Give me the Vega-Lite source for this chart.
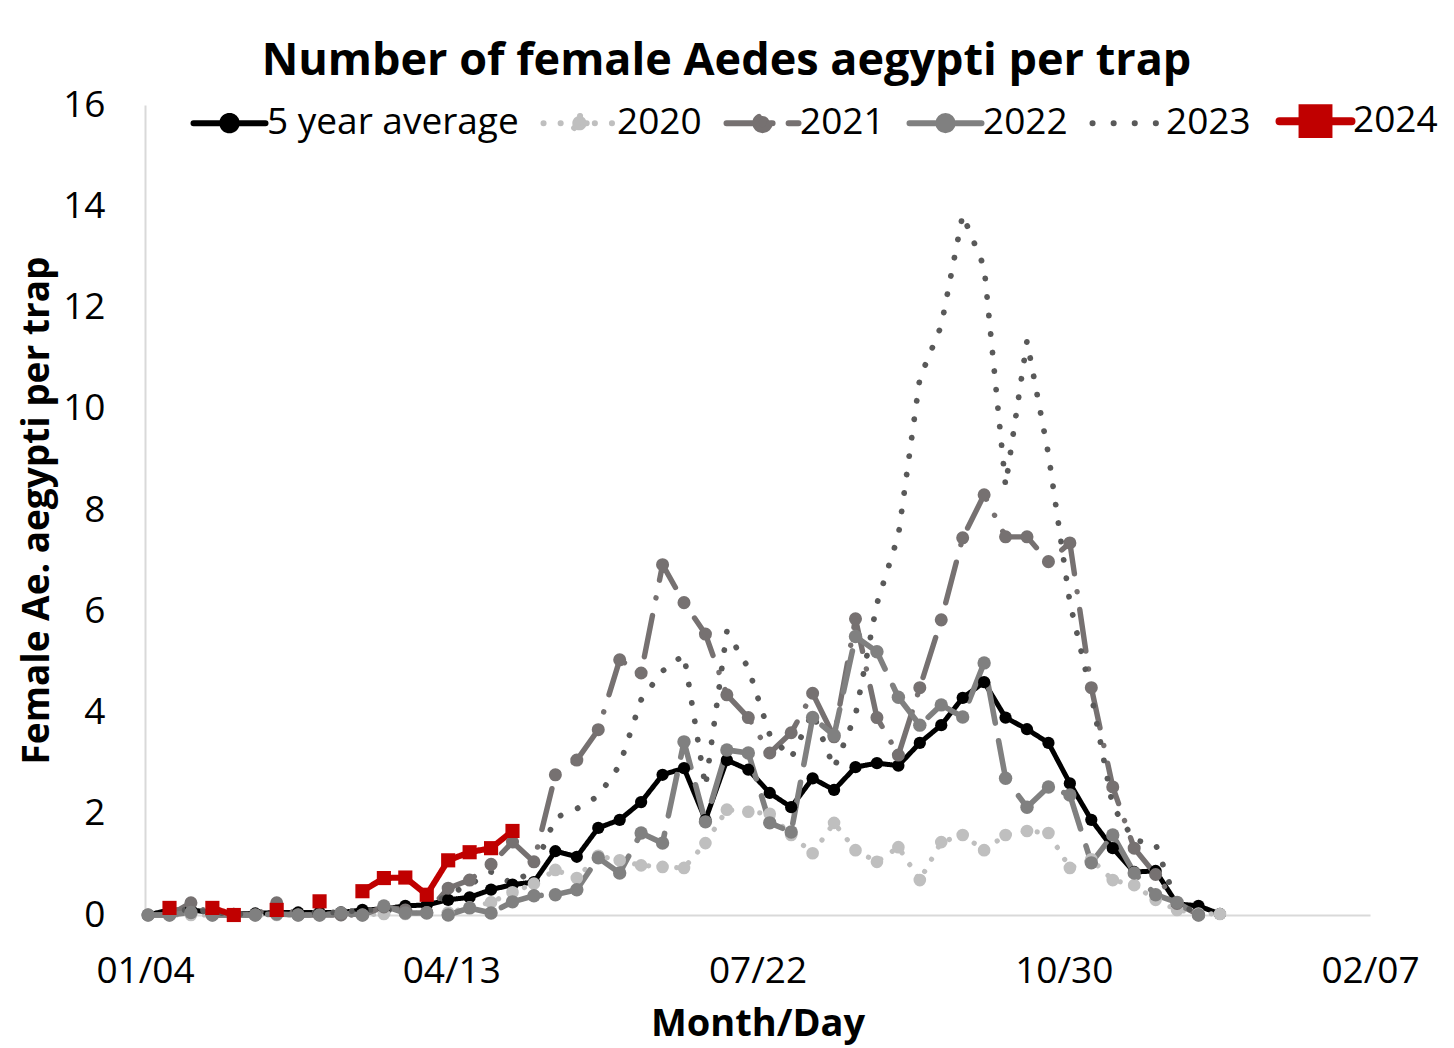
{
  "$schema": "https://vega.github.io/schema/vega-lite/v6.json",
  "width": 1225,
  "height": 810,
  "autosize": {"type": "none"},
  "padding": {"left": 145, "top": 105, "right": 84, "bottom": 133},
  "background": "#ffffff",
  "config": {
    "font": "Open Sans",
    "view": {"stroke": null},
    "axis": {"grid": false, "ticks": false, "domainColor": "#d9d9d9", "domainWidth": 2, "labelColor": "#000000", "titleColor": "#000000", "labelFont": "Open Sans", "titleFont": "Open Sans"}
  },
  "title": {
    "text": "Number of female Aedes aegypti per trap",
    "font": "Open Sans",
    "fontSize": 45,
    "fontWeight": "bold",
    "color": "#000000",
    "anchor": "middle",
    "baseline": "alphabetic",
    "offset": 30,
    "dx": -31,
    "dy": 64
  },
  "data": {
    "values": [
      {"date": "2024-01-05", "5 year average": 0, "2020": 0, "2021": 0, "2022": 0, "2023": 0, "2024": null},
      {"date": "2024-01-12", "5 year average": 0.1, "2020": 0, "2021": 0, "2022": 0, "2023": 0.1, "2024": 0.14},
      {"date": "2024-01-19", "5 year average": 0.1, "2020": 0, "2021": 0.24, "2022": 0.05, "2023": 0.1, "2024": null},
      {"date": "2024-01-26", "5 year average": 0.05, "2020": 0, "2021": 0, "2022": 0, "2023": 0.05, "2024": 0.14},
      {"date": "2024-02-02", "5 year average": 0.02, "2020": 0, "2021": 0, "2022": 0, "2023": 0.02, "2024": 0},
      {"date": "2024-02-09", "5 year average": 0.03, "2020": 0, "2021": 0, "2022": 0, "2023": 0.02, "2024": null},
      {"date": "2024-02-16", "5 year average": 0.05, "2020": 0, "2021": 0.24, "2022": 0.02, "2023": 0.05, "2024": 0.1},
      {"date": "2024-02-23", "5 year average": 0.05, "2020": 0, "2021": 0, "2022": 0, "2023": 0.05, "2024": null},
      {"date": "2024-03-01", "5 year average": 0.05, "2020": 0, "2021": 0, "2022": 0, "2023": 0.05, "2024": 0.27},
      {"date": "2024-03-08", "5 year average": 0.05, "2020": 0, "2021": 0, "2022": 0.04, "2023": 0.05, "2024": null},
      {"date": "2024-03-15", "5 year average": 0.1, "2020": 0, "2021": 0, "2022": 0, "2023": 0.1, "2024": 0.47},
      {"date": "2024-03-22", "5 year average": 0.12, "2020": 0.02, "2021": 0.16, "2022": 0.18, "2023": 0.1, "2024": 0.73},
      {"date": "2024-03-29", "5 year average": 0.18, "2020": 0.02, "2021": 0.1, "2022": 0.04, "2023": 0.1, "2024": 0.74},
      {"date": "2024-04-05", "5 year average": 0.2, "2020": 0.05, "2021": 0.05, "2022": 0.04, "2023": 0.15, "2024": 0.4},
      {"date": "2024-04-12", "5 year average": 0.3, "2020": 0.05, "2021": 0.53, "2022": 0, "2023": 0.4, "2024": 1.08},
      {"date": "2024-04-19", "5 year average": 0.35, "2020": 0.15, "2021": 0.69, "2022": 0.14, "2023": 0.6, "2024": 1.24},
      {"date": "2024-04-26", "5 year average": 0.5, "2020": 0.25, "2021": 1.0, "2022": 0.04, "2023": 0.85, "2024": 1.32},
      {"date": "2024-05-03", "5 year average": 0.6, "2020": 0.45, "2021": 1.44, "2022": 0.26, "2023": 0.62, "2024": 1.66},
      {"date": "2024-05-10", "5 year average": 0.65, "2020": 0.62, "2021": 1.05, "2022": 0.38, "2023": 0.9, "2024": null},
      {"date": "2024-05-17", "5 year average": 1.26, "2020": 0.89, "2021": 2.77, "2022": 0.4, "2023": 1.92, "2024": null},
      {"date": "2024-05-24", "5 year average": 1.15, "2020": 0.73, "2021": 3.06, "2022": 0.5, "2023": 2.1, "2024": null},
      {"date": "2024-05-31", "5 year average": 1.72, "2020": 1.17, "2021": 3.66, "2022": 1.13, "2023": 2.35, "2024": null},
      {"date": "2024-06-07", "5 year average": 1.88, "2020": 1.08, "2021": 5.04, "2022": 0.83, "2023": 2.96, "2024": null},
      {"date": "2024-06-14", "5 year average": 2.23, "2020": 0.98, "2021": 4.78, "2022": 1.62, "2023": 4.25, "2024": null},
      {"date": "2024-06-21", "5 year average": 2.77, "2020": 0.95, "2021": 6.92, "2022": 1.42, "2023": 4.82, "2024": null},
      {"date": "2024-06-28", "5 year average": 2.9, "2020": 0.93, "2021": 6.17, "2022": 3.42, "2023": 5.14, "2024": null},
      {"date": "2024-07-05", "5 year average": 1.88, "2020": 1.42, "2021": 5.55, "2022": 1.84, "2023": 2.53, "2024": null},
      {"date": "2024-07-12", "5 year average": 3.06, "2020": 2.08, "2021": 4.35, "2022": 3.26, "2023": 5.6, "2024": null},
      {"date": "2024-07-19", "5 year average": 2.87, "2020": 2.04, "2021": 3.9, "2022": 3.2, "2023": 4.88, "2024": null},
      {"date": "2024-07-26", "5 year average": 2.41, "2020": 2.0, "2021": 3.2, "2022": 1.82, "2023": 3.56, "2024": null},
      {"date": "2024-08-02", "5 year average": 2.13, "2020": 1.58, "2021": 3.6, "2022": 1.64, "2023": 3.1, "2024": null},
      {"date": "2024-08-09", "5 year average": 2.7, "2020": 1.22, "2021": 4.38, "2022": 3.9, "2023": 4.0, "2024": null},
      {"date": "2024-08-16", "5 year average": 2.47, "2020": 1.82, "2021": 3.52, "2022": 3.55, "2023": 2.9, "2024": null},
      {"date": "2024-08-23", "5 year average": 2.92, "2020": 1.28, "2021": 5.85, "2022": 5.5, "2023": 3.95, "2024": null},
      {"date": "2024-08-30", "5 year average": 3.0, "2020": 1.05, "2021": 3.9, "2022": 5.2, "2023": 6.15, "2024": null},
      {"date": "2024-09-06", "5 year average": 2.95, "2020": 1.34, "2021": 3.16, "2022": 4.3, "2023": 7.5, "2024": null},
      {"date": "2024-09-13", "5 year average": 3.4, "2020": 0.69, "2021": 4.49, "2022": 3.75, "2023": 10.6, "2024": null},
      {"date": "2024-09-20", "5 year average": 3.75, "2020": 1.44, "2021": 5.83, "2022": 4.15, "2023": 11.64, "2024": null},
      {"date": "2024-09-27", "5 year average": 4.29, "2020": 1.58, "2021": 7.45, "2022": 3.91, "2023": 13.83, "2024": null},
      {"date": "2024-10-04", "5 year average": 4.6, "2020": 1.28, "2021": 8.3, "2022": 4.98, "2023": 12.8, "2024": null},
      {"date": "2024-10-11", "5 year average": 3.9, "2020": 1.58, "2021": 7.47, "2022": 2.7, "2023": 8.48, "2024": null},
      {"date": "2024-10-18", "5 year average": 3.67, "2020": 1.66, "2021": 7.47, "2022": 2.13, "2023": 11.34, "2024": null},
      {"date": "2024-10-25", "5 year average": 3.4, "2020": 1.62, "2021": 6.98, "2022": 2.53, "2023": 9.1, "2024": null},
      {"date": "2024-11-01", "5 year average": 2.6, "2020": 0.93, "2021": 7.35, "2022": 2.37, "2023": 6.17, "2024": null},
      {"date": "2024-11-08", "5 year average": 1.88, "2020": 1.1, "2021": 4.49, "2022": 1.03, "2023": 4.35, "2024": null},
      {"date": "2024-11-15", "5 year average": 1.32, "2020": 0.69, "2021": 2.53, "2022": 1.58, "2023": 2.15, "2024": null},
      {"date": "2024-11-22", "5 year average": 0.85, "2020": 0.59, "2021": 1.32, "2022": 0.83, "2023": 1.48, "2024": null},
      {"date": "2024-11-29", "5 year average": 0.87, "2020": 0.3, "2021": 0.8, "2022": 0.4, "2023": 1.4, "2024": null},
      {"date": "2024-12-06", "5 year average": 0.22, "2020": 0.1, "2021": 0.23, "2022": 0.25, "2023": 0.2, "2024": null},
      {"date": "2024-12-13", "5 year average": 0.18, "2020": 0.03, "2021": 0, "2022": 0, "2023": 0.05, "2024": null},
      {"date": "2024-12-20", "5 year average": 0.02, "2020": 0.02, "2021": null, "2022": null, "2023": null, "2024": null}
    ]
  },
  "transform": [
    {"fold": ["5 year average", "2020", "2021", "2022", "2023", "2024"], "as": ["series", "value"]}
  ],
  "encoding": {
    "x": {
      "field": "date",
      "type": "temporal",
      "scale": {"type": "utc", "domain": [{"year": 2024, "month": 1, "date": 4, "utc": true}, {"year": 2025, "month": 2, "date": 7, "utc": true}]},
      "axis": {
        "title": "Month/Day",
        "values": [
          {"year": 2024, "month": 1, "date": 4, "utc": true},
          {"year": 2024, "month": 4, "date": 13, "utc": true},
          {"year": 2024, "month": 7, "date": 22, "utc": true},
          {"year": 2024, "month": 10, "date": 30, "utc": true},
          {"year": 2025, "month": 2, "date": 7, "utc": true}
        ],
        "format": "%m/%d",
        "labelFontSize": 37,
        "labelPadding": 38,
        "labelFlush": false,
        "labelOverlap": false,
        "titleFontSize": 38,
        "titleFontWeight": "bold",
        "titlePadding": 16
      }
    },
    "y": {
      "field": "value",
      "type": "quantitative",
      "scale": {"domain": [0, 16], "nice": false},
      "axis": {
        "title": "Female Ae. aegypti per trap",
        "values": [0, 2, 4, 6, 8, 10, 12, 14, 16],
        "labelFontSize": 37,
        "labelPadding": 40,
        "titleFontSize": 37,
        "titleFontWeight": "bold",
        "titlePadding": 6
      }
    }
  },
  "layer": [
    {
      "mark": {"type": "line", "strokeCap": "round", "strokeJoin": "round", "invalid": "break-paths-show-domains"},
      "encoding": {
        "color": {
          "field": "series",
          "type": "nominal",
          "scale": {
            "domain": ["5 year average", "2020", "2021", "2022", "2023", "2024"],
            "range": ["#000000", "#bfbfbf", "#767171", "#808080", "#595959", "#c00000"]
          },
          "legend": {
            "orient": "none",
            "legendX": 66,
            "legendY": -2.5,
            "direction": "horizontal",
            "title": null,
            "padding": 0,
            "labelFont": "Open Sans",
            "labelFontSize": 37,
            "labelColor": "#000000",
            "labelBaseline": "middle",
            "labelLimit": 0,
            "labelOffset": 19,
            "columnPadding": 12,
            "symbolSize": 5184,
            "symbolType": "M-1,0H1",
            "encode": {
              "symbols": {
                "update": {
                  "shape": {"signal": "datum.value === '2024' ? 'M0,-0.45M0,0.45M-1,0H1M-0.36,-0.36H0.36V0.36H-0.36Z' : datum.value === '2023' ? 'M0,-0.45M0,0.45M-1,0H1' : 'M0,-0.45M0,0.45M-1,0H1M0.2,0A0.2,0.2 0 1 1 -0.2,0A0.2,0.2 0 1 1 0.2,0Z'"},
                  "size": {"value": 5184},
                  "fill": {"scale": "color", "field": "value"},
                  "stroke": {"scale": "color", "field": "value"},
                  "strokeDash": {"signal": "datum.value === '2020' ? [0.1, 17] : datum.value === '2021' ? [30, 16, 0.1, 16] : datum.value === '2022' ? [80, 10] : datum.value === '2023' ? [0.1, 21] : [1, 0]"},
                  "strokeWidth": {"signal": "datum.value === '2024' ? 8 : 6"},
                  "strokeCap": {"value": "round"},
                  "opacity": {"value": 1}
                }
              }
            }
          }
        },
        "strokeDash": {
          "field": "series",
          "type": "nominal",
          "scale": {
            "domain": ["5 year average", "2020", "2021", "2022", "2023", "2024"],
            "range": [[1, 0], [0.1, 14], [42, 18, 0.1, 18], [42, 18], [0.1, 18.5], [1, 0]]
          },
          "legend": null
        },
        "strokeWidth": {
          "field": "series",
          "type": "nominal",
          "scale": {
            "domain": ["5 year average", "2020", "2021", "2022", "2023", "2024"],
            "range": [5, 6, 7, 7, 8, 7]
          },
          "legend": null
        }
      }
    },
    {
      "transform": [{"filter": "datum.series !== '2023' && isValid(datum.value)"}],
      "mark": {"type": "point", "filled": true, "opacity": 1},
      "encoding": {
        "color": {"field": "series", "type": "nominal", "legend": null},
        "shape": {
          "field": "series",
          "type": "nominal",
          "scale": {
            "domain": ["5 year average", "2020", "2021", "2022", "2023", "2024"],
            "range": ["circle", "circle", "circle", "circle", "circle", "square"]
          },
          "legend": null
        },
        "size": {
          "field": "series",
          "type": "nominal",
          "scale": {
            "domain": ["5 year average", "2020", "2021", "2022", "2023", "2024"],
            "range": [150, 200, 230, 200, 0, 650]
          },
          "legend": null
        }
      }
    }
  ],
  "resolve": {"legend": {"color": "independent", "shape": "independent", "size": "independent"}}
}
